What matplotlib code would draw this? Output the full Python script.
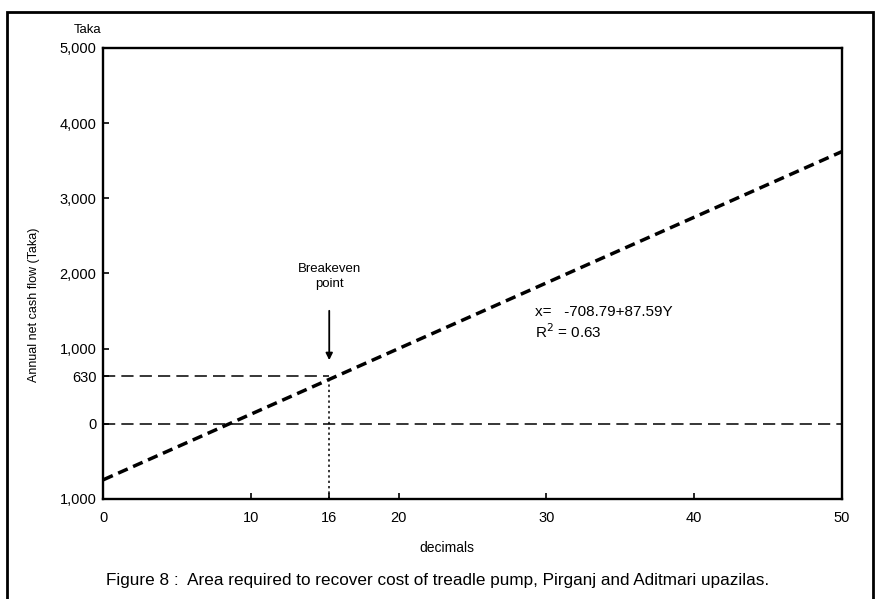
import matplotlib.pyplot as plt
from matplotlib.patches import Rectangle

# regression line (end points)
line_x = [0, 50]
line_y = [-745, 3620]

# breakeven point as drawn (label says 16)
break_x = 15.3
break_y = 630

x_ticks = [0, 10, break_x, 20, 30, 40, 50]
x_labels = ["0", "10", "16", "20", "30", "40", "50"]
y_ticks = [5000, 4000, 3000, 2000, 1000, 630, 0, -1000]
y_labels = ["5,000", "4,000", "3,000", "2,000", "1,000", "630", "0", "1,000"]

plt.rcParams['font.family'] = ['Liberation Sans', 'DejaVu Sans']

fig = plt.figure(figsize=(8.75, 5.99), dpi=100)
ax = fig.add_axes([0.118, 0.167, 0.844, 0.753])

# regression (thick dashes)
ax.plot(line_x, line_y, color="black", lw=2.5, dashes=(3.0, 1.7))
# zero line and 630 guide (thin long dashes)
ax.plot([0, 50], [0, 0], color="black", lw=1.1, dashes=(8, 4))
ax.plot([0, break_x], [break_y, break_y], color="black", lw=1.1, dashes=(8, 4))
# dotted drop to x axis
ax.plot([break_x, break_x], [-1000, break_y], color="black", lw=1.1, ls=(0, (1.5, 2)))

# breakeven arrow + label
ax.annotate("", xy=(break_x, 810), xytext=(break_x, 1540),
            arrowprops=dict(arrowstyle="-|>", color="black", lw=1.3,
                            mutation_scale=10))
ax.text(break_x, 1960, "Breakeven\npoint", ha="center", va="center",
        fontsize=9.5, linespacing=1.3)

ax.text(29.2, 1490, "x=   -708.79+87.59Y", ha="left", va="center", fontsize=11)
ax.text(29.2, 1220, "R$^2$ = 0.63", ha="left", va="center", fontsize=11)

ax.set_xlim(0, 50)
ax.set_ylim(-1000, 5000)
ax.set_xticks(x_ticks)
ax.set_xticklabels(x_labels)
ax.set_yticks(y_ticks)
ax.set_yticklabels(y_labels)
ax.tick_params(direction="in", length=4, width=1.2, labelsize=10.5)
ax.tick_params(axis="x", pad=9)
ax.tick_params(axis="y", pad=5)
for s in ax.spines.values():
    s.set_linewidth(1.7)

ax.set_ylabel("Annual net cash flow (Taka)", fontsize=9)
ax.yaxis.set_label_coords(-0.085, 0.43)

fig.text(447 / 875, 1 - 548 / 599, "decimals", ha="center", va="center", fontsize=10)
fig.text(88 / 875, 1 - 30 / 599, "Taka", ha="center", va="center", fontsize=9.5)
fig.text(438 / 875, 1 - 581 / 599,
         "Figure 8 :  Area required to recover cost of treadle pump, Pirganj and Aditmari upazilas.",
         ha="center", va="center", fontsize=12.3)

# outer frame of the scanned figure
fig.patches.append(Rectangle((7 / 875, -0.05), 866 / 875, 1.05 - 12 / 599,
                             transform=fig.transFigure, fill=False,
                             edgecolor="black", lw=2.0))

fig.savefig("out.png", dpi=100)
